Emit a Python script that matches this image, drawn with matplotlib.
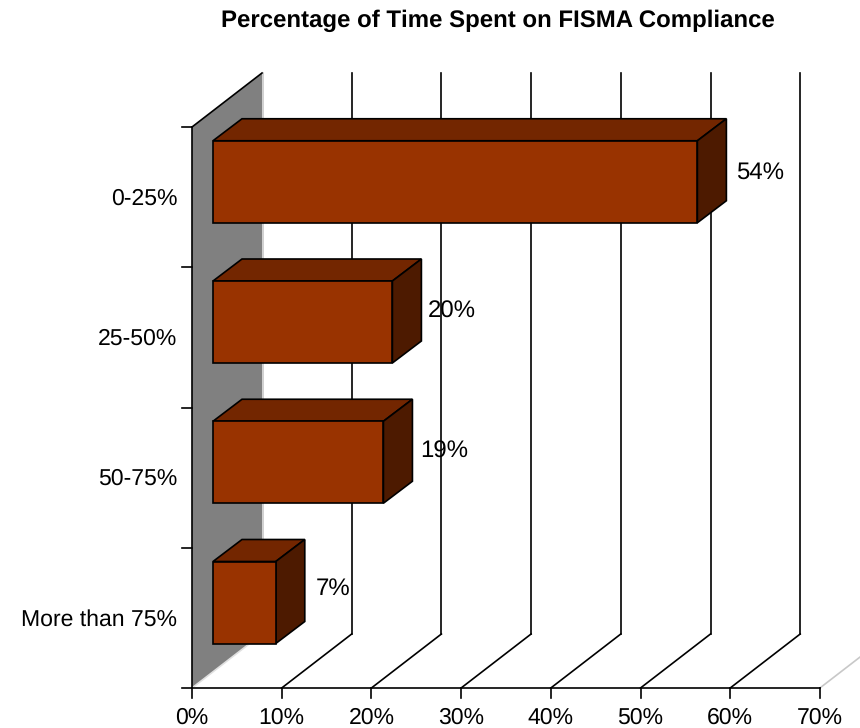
# fisma_chart.py
# 3D look bar chart, faces drawn as polygons on a plain axes
import matplotlib
matplotlib.use('Agg')
import matplotlib.pyplot as plt
from matplotlib.patches import Polygon

plt.rcParams['font.family'] = ['Liberation Sans', 'DejaVu Sans']
plt.rcParams['text.hinting'] = 'none'
plt.rcParams['text.hinting_factor'] = 1

categories = ['0-25%', '25-50%', '50-75%', 'More than 75%']
values = [54, 20, 19, 7]
x_ticks = [0, 10, 20, 30, 40, 50, 60, 70]

FRONT = '#993300'
TOP = '#732600'
SIDE = '#4d1a00'
WALL = '#808080'

W, H = 860, 728
PX_X = 8.97     # pixels per percent
PX_Y = 140.25   # pixels per category slot
FS = 16.8

fig = plt.figure(figsize=(W / 100, H / 100), dpi=100)
ax = fig.add_axes([0, 0, 1, 1])
ax.set_xlim(-192 / PX_X, (W - 192) / PX_X)
ax.set_ylim(-(H - 688) / PX_Y, 688 / PX_Y)
ax.axis('off')

n = len(categories)
# depth of the chart box
dx = 70 / PX_X
dy = 54 / PX_Y
# depth of a bar and its place inside the box
bar_dx = 29 / PX_X
bar_dy = 22 / PX_Y
bar_x0 = 21 / PX_X
bar_h = 82 / PX_Y
bar_low = 44.5 / PX_Y   # front bottom edge above the slot line
lw = 1.2

# label nudges in pixels from the bar end and the bar middle
label_dx = [62.5, 59.5, 60.5, 57]
label_dy = [9.5, 10, 10.5, 13.5]

# wall on the left
ax.add_patch(Polygon([(0, 0), (dx, dy), (dx, n + dy), (0, n)], closed=True,
                     fc=WALL, ec='none', zorder=1))
ax.plot([dx + 0.08, dx + 0.08], [dy, n + dy], color='#c8c8c8', lw=lw, zorder=1)
ax.plot([0, dx], [0, dy], color='#e0e0e0', lw=lw, zorder=1)
ax.plot([0, dx], [n, n + dy], color='black', lw=lw, zorder=2)
ax.plot([0, 0], [0, n], color='black', lw=lw, zorder=2)

# grid on the back and the floor
for t in x_ticks[1:]:
    c = 'black' if t < 70 else '#c8c8c8'
    ax.plot([t, t + dx], [0, dy], color=c, lw=lw, zorder=2)
    ax.plot([t + dx, t + dx], [dy, n + dy], color=c, lw=lw, zorder=2)

# x axis
ax.plot([0, x_ticks[-1]], [0, 0], color='black', lw=lw, zorder=3)
for t in x_ticks:
    ax.plot([t, t], [0, -10 / PX_Y], color='black', lw=lw, zorder=3)
    ax.text(t, -30 / PX_Y, '%d%%' % t, ha='center', va='center', fontsize=FS)

# y axis ticks
for i in range(n + 1):
    ax.plot([-10 / PX_X, 0], [i, i], color='black', lw=lw, zorder=3)

# bars, top one first
for i, (name, v) in enumerate(zip(categories, values)):
    base = n - 1 - i
    x0 = bar_x0
    x1 = bar_x0 + v
    y0 = base + bar_low
    y1 = y0 + bar_h
    ax.add_patch(Polygon([(x0, y1), (x0 + bar_dx, y1 + bar_dy), (x1 + bar_dx, y1 + bar_dy), (x1, y1)],
                         closed=True, fc=TOP, ec='black', lw=lw, zorder=4))
    ax.add_patch(Polygon([(x1, y0), (x1 + bar_dx, y0 + bar_dy), (x1 + bar_dx, y1 + bar_dy), (x1, y1)],
                         closed=True, fc=SIDE, ec='black', lw=lw, zorder=4))
    ax.add_patch(Polygon([(x0, y0), (x1, y0), (x1, y1), (x0, y1)],
                         closed=True, fc=FRONT, ec='black', lw=lw, zorder=5))
    ax.text(-14.5 / PX_X, base + 0.5 - 1.5 / PX_Y, name, ha='right', va='center', fontsize=FS)
    ax.text(x1 + label_dx[i] / PX_X, (y0 + y1) / 2 + label_dy[i] / PX_Y, '%d%%' % v,
            ha='center', va='center', fontsize=17.4, zorder=6)

ax.text((498 - 192) / PX_X, (688 - 21) / PX_Y, 'Percentage of Time Spent on FISMA Compliance',
        ha='center', va='center', fontsize=16.95, fontweight='bold')

fig.savefig('out.png', dpi=100)
